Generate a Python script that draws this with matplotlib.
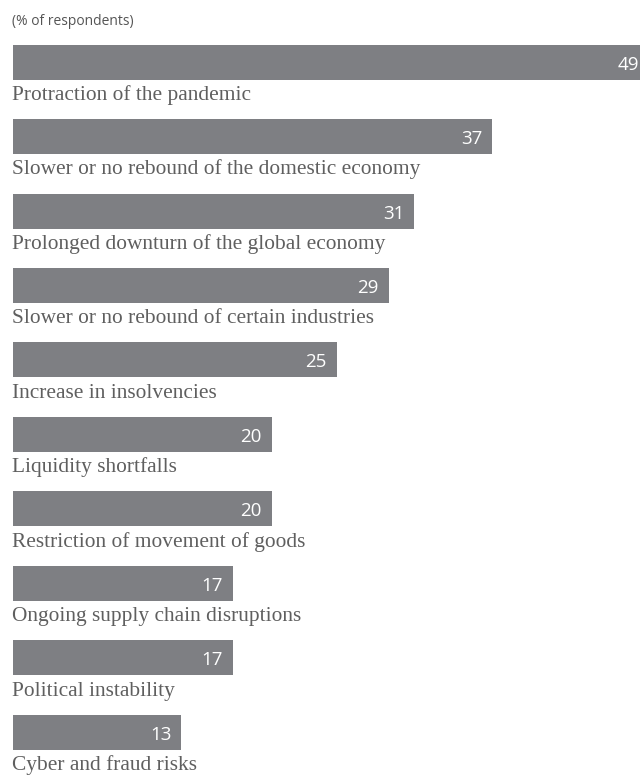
import matplotlib
matplotlib.use('Agg')
import matplotlib.pyplot as plt

categories = ['Protraction of the pandemic',
              'Slower or no rebound of the domestic economy',
              'Prolonged downturn of the global economy',
              'Slower or no rebound of certain industries',
              'Increase in insolvencies',
              'Liquidity shortfalls',
              'Restriction of movement of goods',
              'Ongoing supply chain disruptions',
              'Political instability',
              'Cyber and fraud risks']
values = [49, 37, 31, 29, 25, 20, 20, 17, 17, 13]

bar_color = '#7e7f83'
text_color = '#5f5f5f'

fig = plt.figure(figsize=(6.4, 7.76), dpi=100)
ax = fig.add_axes([0, 0, 1, 1])

# pixel-like layout: x in data units, y in pixels from top
px_per_unit = 12.95
x0 = 13
xmin = -x0 / px_per_unit
xmax = (640 - x0) / px_per_unit
ax.set_xlim(xmin, xmax)
ax.set_ylim(776, 0)

step = 74.44
first = 62.2
ys = [first + i * step for i in range(len(values))]

ax.barh(ys, values, height=35, color=bar_color, left=0)

for y, v, lab in zip(ys, values, categories):
    xt = min(v, xmax) - 10 / px_per_unit
    if v > xmax:
        xt = xmax - 1 / px_per_unit
    ax.text(xt, y + 7.5, str(v), color='white', ha='right', va='baseline',
            fontsize=13.5, family='Open Sans')
    ax.text(xmin + 12 / px_per_unit, y + 37.8, lab, color=text_color, ha='left',
            va='baseline', fontsize=15.4, family='Liberation Serif')

ax.text(xmin + 12 / px_per_unit, 25, '(% of respondents)', color='#555555',
        ha='left', va='baseline', fontsize=10, family='Open Sans')

ax.axis('off')
fig.savefig('out.png', dpi=100)
